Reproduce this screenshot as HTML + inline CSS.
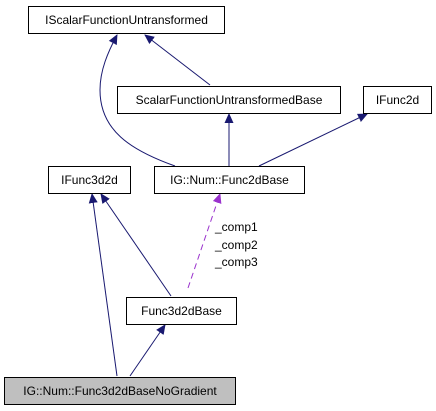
<!DOCTYPE html>
<html><head><meta charset="utf-8"><style>
html,body{margin:0;padding:0;background:#fff;}
svg{display:block;}
text{font-family:"Liberation Sans",sans-serif;font-size:12px;fill:#000;}
</style></head><body>
<svg width="436" height="411" viewBox="0 0 436 411">
<defs>
<marker id="a" markerWidth="10" markerHeight="10" refX="9" refY="5" orient="auto" markerUnits="userSpaceOnUse"><path d="M0,0.5 L10,5 L0,9.5 Z" fill="#191970"/></marker>
<marker id="p" markerWidth="10" markerHeight="10" refX="9" refY="5" orient="auto" markerUnits="userSpaceOnUse"><path d="M0,0.5 L10,5 L0,9.5 Z" fill="#9a32cd"/></marker>
</defs>
<g fill="none" stroke="#191970" stroke-width="1">
<path d="M175,166 C130,150 100,130 100,90 C100,70 108,52 117,35" marker-end="url(#a)"/>
<path d="M210,85 L145,35" marker-end="url(#a)"/>
<path d="M229,166 L229,114" marker-end="url(#a)"/>
<path d="M259,166 L367,114" marker-end="url(#a)"/>
<path d="M117,376 L92,194" marker-end="url(#a)"/>
<path d="M171,296 L101,194" marker-end="url(#a)"/>
<path d="M130,376 L165,325" marker-end="url(#a)"/>
</g>
<path d="M188,288 L220,194" stroke="#9a32cd" stroke-dasharray="6,4" fill="none" marker-end="url(#p)"/>
<text x="215" y="231">_comp1</text>
<text x="215" y="249">_comp2</text>
<text x="215" y="266">_comp3</text>
<g stroke="#000" fill="#fff">
<rect x="28.5" y="6.5" width="196" height="27"/>
<rect x="117.5" y="86.5" width="223" height="27"/>
<rect x="363.5" y="86.5" width="68" height="27"/>
<rect x="154.5" y="166.5" width="150" height="27"/>
<rect x="48.5" y="166.5" width="82" height="27"/>
<rect x="126.5" y="297.5" width="110" height="27"/>
<rect x="4.5" y="377.5" width="231" height="27" fill="#bfbfbf"/>
</g>
<g text-anchor="middle">
<text x="126.5" y="24">IScalarFunctionUntransformed</text>
<text x="229" y="104">ScalarFunctionUntransformedBase</text>
<text x="397.5" y="104">IFunc2d</text>
<text x="229.5" y="184">IG::Num::Func2dBase</text>
<text x="89.5" y="184">IFunc3d2d</text>
<text x="181.5" y="315">Func3d2dBase</text>
<text x="120" y="395">IG::Num::Func3d2dBaseNoGradient</text>
</g>
</svg>
</body></html>
